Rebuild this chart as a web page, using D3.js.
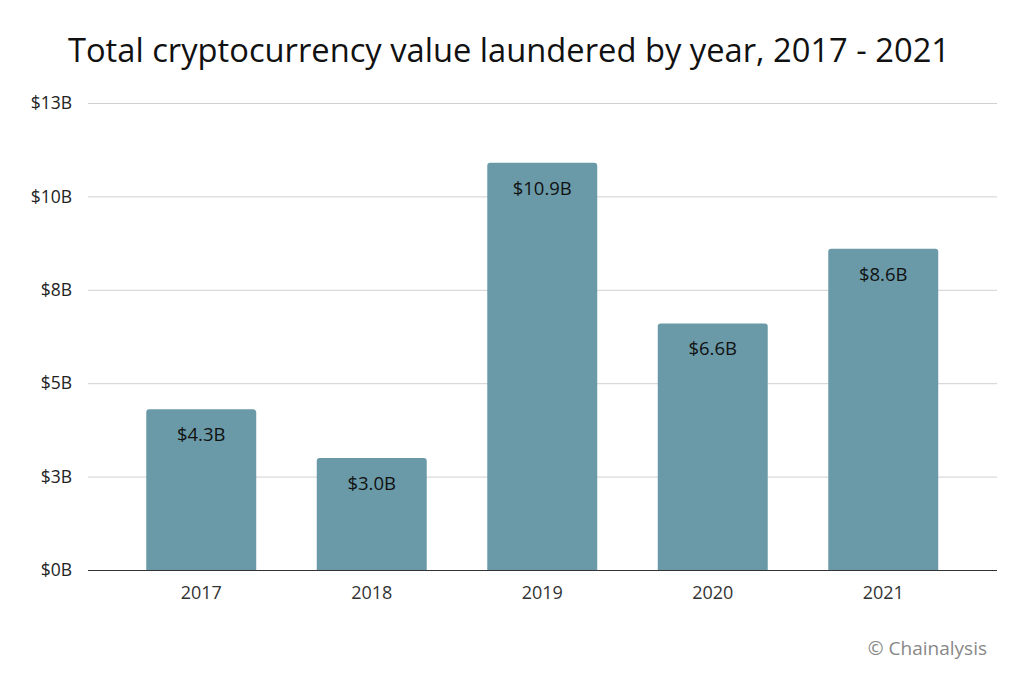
<!DOCTYPE html>
<html>
<head>
<meta charset="utf-8">
<script src="https://cdn.jsdelivr.net/npm/d3@7/dist/d3.min.js"></script>
<style>
  body { margin: 0; background: #fff; }
  text { font-family: 'Open Sans', 'Noto Sans', sans-serif; }
</style>
</head>
<body>
<script>
// data
var years = ['2017', '2018', '2019', '2020', '2021'];
var laundered = [4.3, 3.0, 10.9, 6.6, 8.6];   // $B
var yTicks = [0, 2.5, 5, 7.5, 10, 12.5];
var yTickLabels = ['$0B', '$3B', '$5B', '$8B', '$10B', '$13B'];

var width = 1024, height = 690;
var barColor = '#6a9aa8';
var fontStack = "'Open Sans', 'Noto Sans', sans-serif";

var svg = d3.select('body').append('svg')
    .attr('width', width)
    .attr('height', height);

svg.append('rect')
    .attr('width', width).attr('height', height)
    .attr('fill', '#fff');

var x = d3.scaleBand()
    .domain(years)
    .range([116, 968.5])
    .paddingInner(0.355)
    .paddingOuter(0.1775);

var y = d3.scaleLinear()
    .domain([0, 12.5])
    .range([570, 103]);

// title
svg.append('text')
    .attr('x', 509)
    .attr('y', 62)
    .attr('text-anchor', 'middle')
    .attr('fill', '#111')
    .style('font-size', '32.7px')
    .text('Total cryptocurrency value laundered by year, 2017 - 2021');

// gridlines + y labels
var yAxis = d3.axisLeft(y)
    .tickValues(yTicks)
    .tickFormat(function(d, i) { return yTickLabels[i]; })
    .tickSize(-(997 - 88))
    .tickPadding(16);

var gy = svg.append('g')
    .attr('transform', 'translate(88,0)')
    .call(yAxis)
    .attr('font-size', 17.5)
    .attr('font-family', fontStack);
gy.select('.domain').remove();
gy.selectAll('.tick line').attr('stroke', '#d0d0d0').attr('stroke-width', 1);
gy.selectAll('.tick text').attr('fill', '#222');

// bars
svg.append('g').selectAll('path')
    .data(laundered)
    .join('path')
    .attr('fill', barColor)
    .attr('d', function(d, i) {
        var x0 = x(years[i]), w = x.bandwidth(), y0 = y(d), y1 = y(0), r = 3;
        return 'M' + x0 + ',' + y1 +
               'V' + (y0 + r) +
               'Q' + x0 + ',' + y0 + ' ' + (x0 + r) + ',' + y0 +
               'H' + (x0 + w - r) +
               'Q' + (x0 + w) + ',' + y0 + ' ' + (x0 + w) + ',' + (y0 + r) +
               'V' + y1 + 'Z';
    });

// value labels
svg.append('g').selectAll('text')
    .data(laundered)
    .join('text')
    .attr('x', function(d, i) { return x(years[i]) + x.bandwidth() / 2; })
    .attr('y', function(d) { return y(d) + 32; })
    .attr('text-anchor', 'middle')
    .attr('fill', '#111')
    .style('font-size', '18.5px')
    .text(function(d) { return '$' + d.toFixed(1) + 'B'; });

// x axis
var xAxis = d3.axisBottom(x).tickSize(0).tickPadding(16);
var gx = svg.append('g')
    .attr('transform', 'translate(0,570)')
    .call(xAxis)
    .attr('font-size', 18)
    .attr('font-family', fontStack);
gx.select('.domain').remove();
gx.selectAll('.tick text').attr('fill', '#333');

svg.append('line')
    .attr('x1', 88).attr('x2', 997)
    .attr('y1', 570.5).attr('y2', 570.5)
    .attr('stroke', '#333')
    .attr('stroke-width', 1.2);

// source
svg.append('text')
    .attr('x', 987)
    .attr('y', 655)
    .attr('text-anchor', 'end')
    .attr('fill', '#888')
    .style('font-size', '19px')
    .text('\u00A9 Chainalysis');
</script>
</body>
</html>
